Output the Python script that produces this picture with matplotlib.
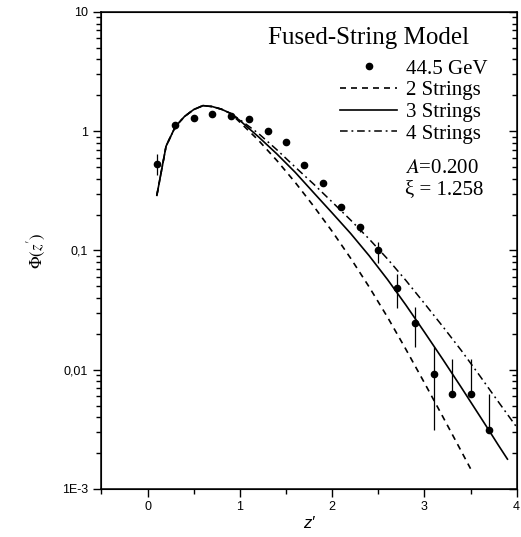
import numpy as np
import matplotlib
matplotlib.use('Agg')
import matplotlib.pyplot as plt
from matplotlib.lines import Line2D
from matplotlib.ticker import FixedLocator, FixedFormatter, LogLocator, NullFormatter, MultipleLocator

plt.rcParams['mathtext.fontset'] = 'stix'

# 44.5 GeV data points
z_data = [0.1, 0.3, 0.5, 0.7, 0.9, 1.1, 1.3, 1.5, 1.7, 1.9, 2.1, 2.3, 2.5, 2.7, 2.9, 3.1, 3.3, 3.5, 3.7]
phi_data = [0.53, 1.12, 1.28, 1.40, 1.35, 1.26, 1.00, 0.82, 0.52, 0.37, 0.233, 0.156, 0.10,
            0.048, 0.0245, 0.0092, 0.0062, 0.0062, 0.0031]
err_up = [0.12, 0.07, 0.06, 0.06, 0.06, 0.06, 0.05, 0.04, 0.03, 0.02, 0.013, 0.012, 0.017,
          0.016, 0.009, 0.0062, 0.006, 0.006, 0.0032]
err_lo = [0.10, 0.07, 0.06, 0.06, 0.06, 0.06, 0.05, 0.04, 0.03, 0.02, 0.013, 0.012, 0.022,
          0.015, 0.009, 0.0061, 0.0, 0.0, 0.0]

# model curves
z3 = [0.1, 0.2, 0.3, 0.4, 0.5, 0.6, 0.7, 0.8, 0.9, 1.0, 1.2, 1.4, 1.6, 1.8, 2.0, 2.2, 2.4,
      2.6, 2.8, 3.0, 3.2, 3.4, 3.6, 3.7, 3.8, 3.9]
phi3 = [0.29, 0.75, 1.09, 1.33, 1.52, 1.64, 1.61, 1.53, 1.41, 1.23, 0.90, 0.646, 0.452, 0.305,
        0.2065, 0.139, 0.0906, 0.0571, 0.0348, 0.0207, 0.0122, 0.0071, 0.00409, 0.0031,
        0.00234, 0.00178]

z2 = [0.1, 0.2, 0.3, 0.4, 0.5, 0.6, 0.7, 0.8, 0.9, 1.0, 1.2, 1.4, 1.6, 1.8, 2.0, 2.2, 2.4,
      2.6, 2.8, 3.0, 3.2, 3.4, 3.5]
phi2 = [0.29, 0.75, 1.09, 1.33, 1.52, 1.64, 1.61, 1.53, 1.41, 1.19, 0.842, 0.569, 0.372, 0.235,
        0.1447, 0.0862, 0.0496, 0.0276, 0.0148, 0.00777, 0.00403, 0.00207, 0.00148]

z4 = [0.1, 0.2, 0.3, 0.4, 0.5, 0.6, 0.7, 0.8, 0.9, 1.0, 1.2, 1.4, 1.6, 1.8, 2.0, 2.2, 2.4,
      2.6, 2.8, 3.0, 3.2, 3.4, 3.6, 3.8, 4.0]
phi4 = [0.29, 0.75, 1.09, 1.33, 1.52, 1.64, 1.61, 1.53, 1.41, 1.25, 0.96, 0.70, 0.50, 0.36,
        0.255, 0.18, 0.125, 0.085, 0.056, 0.036, 0.023, 0.0145, 0.0089, 0.0054, 0.0033]

ytick_vals = [1e-3, 1e-2, 1e-1, 1, 10]
ytick_text = ['1E-3', '0,01', '0,1', '1', '10']
xtick_vals = [0, 1, 2, 3, 4]

fig = plt.figure(figsize=(5.21, 5.37), dpi=100)
ax = fig.add_axes([0.1948, 0.0894, 0.7969, 0.8883])

ax.errorbar(z_data, phi_data, yerr=[err_lo, err_up], fmt='o', color='black', ms=4.5,
            elinewidth=0.9, capsize=0)
l2, = ax.plot(z2, phi2, color='black', lw=1.2, ls=(0, (3.6, 3.0)))
l3, = ax.plot(z3, phi3, color='black', lw=1.2, ls='-')
l4, = ax.plot(z4, phi4, color='black', lw=1.1, ls=(0, (5, 2.5, 1.2, 2.5)))
dot = Line2D([], [], marker='o', ls='none', color='black', ms=4.5)

ax.set_yscale('log')
ax.set_ylim(1e-3, 10)
ax.set_xlim(-0.5, 4)

ax.yaxis.set_major_locator(FixedLocator(ytick_vals))
ax.yaxis.set_major_formatter(FixedFormatter(ytick_text))
ax.yaxis.set_minor_locator(LogLocator(base=10, subs=np.arange(2, 10)))
ax.yaxis.set_minor_formatter(NullFormatter())
ax.xaxis.set_major_locator(FixedLocator(xtick_vals))
ax.xaxis.set_minor_locator(MultipleLocator(0.5))

for s in ax.spines.values():
    s.set_linewidth(1.1)
ax.tick_params(axis='y', which='both', direction='out', labelsize=9, width=1.0)
ax.tick_params(axis='y', which='major', length=6)
ax.tick_params(axis='y', which='minor', length=3.5)
ax.tick_params(axis='x', which='both', direction='out', labelsize=9, width=1.0, top=False)
ax.tick_params(axis='x', which='major', length=6, pad=3)
ax.tick_params(axis='x', which='minor', length=3.5)
for lab in ax.get_xticklabels() + ax.get_yticklabels():
    lab.set_family('Liberation Sans')

# ticks on the right spine point inward
ax2 = ax.twinx()
ax2.set_yscale('log')
ax2.set_ylim(ax.get_ylim())
ax2.yaxis.set_major_locator(FixedLocator(ytick_vals))
ax2.yaxis.set_minor_locator(LogLocator(base=10, subs=np.arange(2, 10)))
ax2.yaxis.set_major_formatter(NullFormatter())
ax2.yaxis.set_minor_formatter(NullFormatter())
ax2.tick_params(axis='y', which='both', direction='in', width=1.0)
ax2.tick_params(axis='y', which='major', length=6)
ax2.tick_params(axis='y', which='minor', length=3.5)

ax.set_xlabel("z′", family='Liberation Sans', style='italic', fontsize=12, labelpad=2)
ax.set_ylabel(r"$\Phi(z')$", fontsize=12, labelpad=10)

ax.text(0.644, 0.9445, "Fused-String Model", transform=ax.transAxes, fontsize=18,
        family='Liberation Serif', ha='center', va='center')
ax.legend(handles=[dot, l2, l3, l4],
          labels=['44.5 GeV', '2 Strings', '3 Strings', '4 Strings'],
          loc='upper left', bbox_to_anchor=(0.5744, 0.901), frameon=False,
          prop={'family': 'Liberation Serif', 'size': 15}, handlelength=2.75,
          handletextpad=0.4, labelspacing=0.1, borderpad=0, borderaxespad=0)

ax.text(0.73, 0.672, r"$A$=0.200", transform=ax.transAxes, fontsize=15,
        family='Liberation Serif', va='center')
ax.text(0.73, 0.627, "ξ = 1.258", transform=ax.transAxes, fontsize=15,
        family='Liberation Serif', va='center')

fig.savefig('out.png', dpi=100)
